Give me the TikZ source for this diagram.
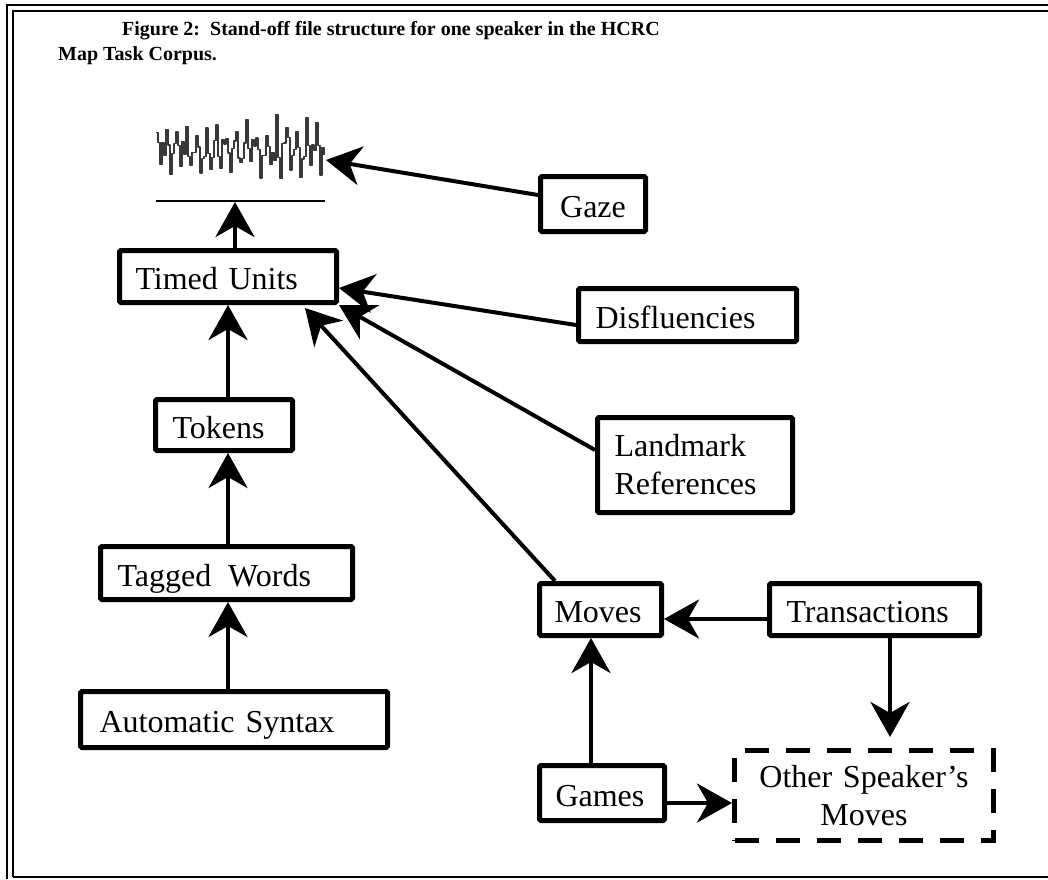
\documentclass[tikz,border=0pt]{standalone}
\usepackage{fontspec}
\setmainfont{Liberation Serif}
\usetikzlibrary{arrows.meta}
\begin{document}
\begin{tikzpicture}[x=1pt,y=-1pt,
  box/.style={draw, line width=5pt, rounded corners=1.5pt, inner ysep=0pt,
    font=\fontsize{32}{38}\selectfont, align=left},
  one/.style={text height=26pt, text depth=0pt},
  dbox/.style={draw, line width=5pt, dash pattern=on 24pt off 17pt, inner ysep=0pt,
    font=\fontsize{32}{38}\selectfont, align=center},
  arr/.style={line width=4pt, -{Stealth[length=35pt,width=39pt,inset=11pt]}},
  wave/.style={line width=1.2pt, color=black!78, line join=bevel},
  frame/.style={line width=2pt},
  ttl/.style={anchor=base west, inner sep=0pt, font=\bfseries\fontsize{20}{24}\selectfont}
]
\useasboundingbox (0,0) rectangle (1048,879);
% frame
\draw[frame] (6.5,879) -- (6.5,5) -- (1048,5);
\draw[frame] (12.5,877) -- (12.5,10.5) -- (1048,10.5);
\draw[frame] (12.5,877) -- (1048,877);
% title
\node[ttl] (t1) at (122,35.5) {Figure 2:\ \ Stand-off file structure for one speaker in the HCRC};
\node[ttl] (t2) at (58,60.5) {Map Task Corpus.};
% waveform
\pgfmathsetseed{5}
\draw[wave] plot[const plot, samples=85, domain=0:84]
  ({156+2*\x}, {150 + (0.6+0.4*\x/84)*(14*rand + ((mod(\x,5)<0.5) ? -28 : 0) + ((abs(mod(\x,5)-2)<0.5) ? 26 : 0))});
\draw[line width=1.2pt] (156,201) -- (325,201);
\coordinate (wb) at (235,202);
\coordinate (wavetip) at (326,160);
% boxes
\node[box, one, minimum width=217pt, minimum height=52pt, text width=185pt, inner xsep=16pt] (tu) at (228,276.5) {Timed Units};
\node[box, one, align=center, minimum width=105pt, minimum height=55pt, text width=85pt, inner xsep=10pt] (gaze) at (593,204) {Gaze};
\node[box, one, minimum width=218pt, minimum height=53pt, text width=184pt, inner xsep=17pt] (disfl) at (687.5,315) {Disfluencies};
\node[box, minimum width=195pt, minimum height=95pt, text width=161pt, inner xsep=17pt] (land) at (695,465) {Landmark\\References};
\node[box, one, minimum width=137pt, minimum height=51pt, text width=103pt, inner xsep=17pt] (tok) at (224,425) {Tokens};
\node[box, one, minimum width=252pt, minimum height=53pt, text width=218pt, inner xsep=17pt] (tag) at (226.5,573) {Tagged\hspace{17pt}Words};
\node[box, one, minimum width=307pt, minimum height=56pt, text width=269pt, inner xsep=19pt] (auto) at (234,719.5) {Automatic\hspace{11pt}Syntax};
\node[box, one, minimum width=122pt, minimum height=52pt, text width=92pt, inner xsep=15pt] (moves) at (600.5,609.5) {Moves};
\node[box, one, minimum width=210pt, minimum height=52pt, text width=176pt, inner xsep=17pt] (trans) at (874.5,609.5) {Transactions};
\node[box, one, minimum width=125pt, minimum height=55pt, text width=93pt, inner xsep=16pt] (games) at (602,793) {Games};
\node[dbox, minimum width=259pt, minimum height=90pt, text width=239pt, inner xsep=10pt] (other) at (864,795.5) {Other Speaker's\\Moves};
% connectors
\draw[arr] (tu.north -| wb) -- (wb);
\draw[arr] ([yshift=9pt]gaze.west) -- (wavetip);
\draw[arr] ([yshift=-10pt]disfl.west) -- ([yshift=-11.5pt]tu.east);
\draw[arr] ([yshift=15pt]land.west) -- (tu.south east);
\draw[arr] ([xshift=-45.5pt]moves.north) -- ([xshift=-34pt,yshift=-3pt]tu.south east);
\draw[arr] (tok.north -| tu.south) -- (tu.south);
\draw[arr] (tag.north -| tu.south) -- (tok.south -| tu.south);
\draw[arr] (auto.north -| tu.south) -- (tag.south -| tu.south);
\draw[arr] ([yshift=-9.5pt]trans.west) -- ([yshift=-9.5pt]moves.east);
\draw[arr, shorten >=11pt] ([xshift=15.5pt]trans.south) -- ([xshift=15.5pt]trans.south |- other.north);
\draw[arr] ([xshift=-11pt]games.north) -- ([xshift=-11pt]games.north |- moves.south);
\draw[arr] ([yshift=-10pt]games.east) -- ([yshift=-10pt]games.east -| other.west);
\end{tikzpicture}
\end{document}
